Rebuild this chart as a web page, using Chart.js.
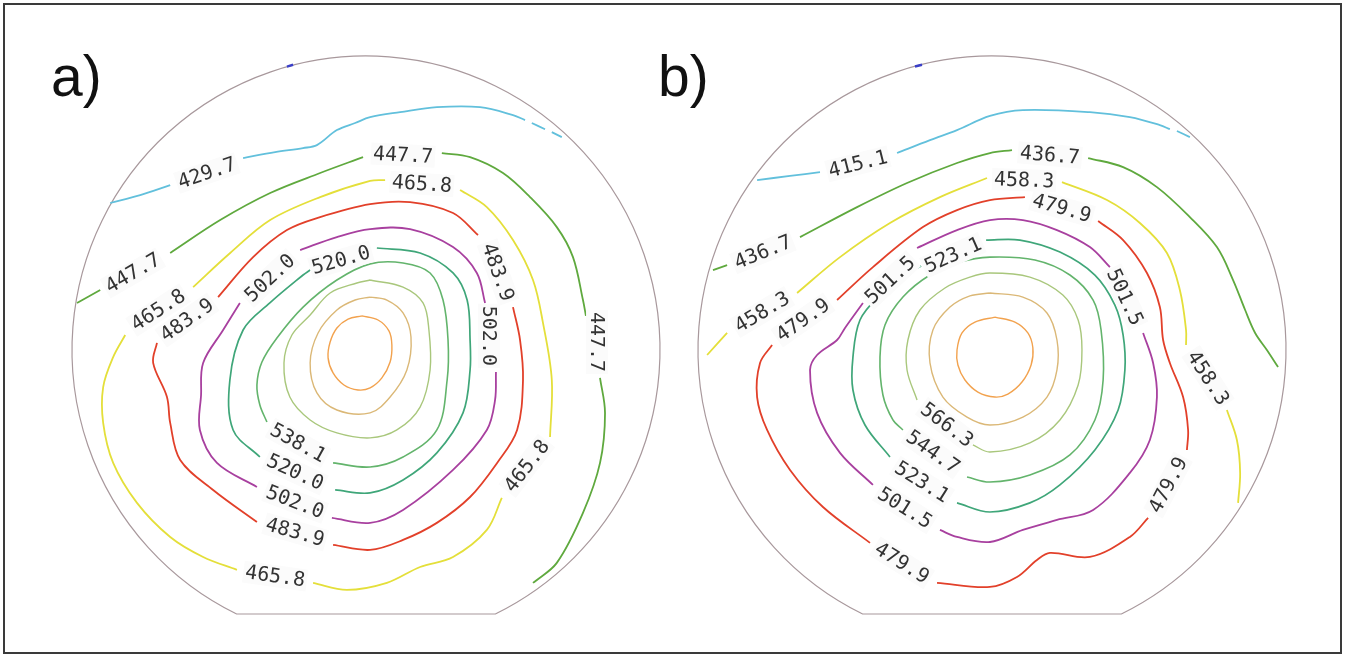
<!DOCTYPE html>
<html><head><meta charset="utf-8">
<script src="https://cdn.jsdelivr.net/npm/chart.js@4.4.1/dist/chart.umd.min.js"></script>
<style>
html,body{margin:0;padding:0;background:#fff;}
body{width:1346px;height:654px;position:relative;overflow:hidden;}
#frame{position:absolute;left:3px;top:3px;width:1339px;height:651px;box-sizing:border-box;border:2px solid #3a3a3a;}
.tag{position:absolute;top:48px;font-family:'Liberation Sans',Arial,sans-serif;font-size:57px;line-height:57px;color:#111;}
canvas{position:absolute;top:46px;}
</style></head><body>
<div id="frame"></div>
<div class="tag" style="left:51px">a)</div>
<div class="tag" style="left:658px">b)</div>
<canvas id="ca" width="608" height="608" style="left:62px"></canvas>
<canvas id="cb" width="608" height="608" style="left:688px"></canvas>
<script>
// ---- wafer geometry (mm, 200 mm wafer) ----
const WAFER_RADIUS = 100;
const WAFER_FLAT_Y = -89.8;

// ---- contour levels ----
const levelsA = [429.7, 447.7, 465.8, 483.9, 502.0, 520.0, 538.1];
const levelsB = [415.1, 436.7, 458.3, 479.9, 501.5, 523.1, 544.7, 566.3];

// ---- panel a contours (x, y in mm; null = break at a label) ----
const a_429_7 = [[-87.0,50.0],[-76.8,52.7],[-66.6,56.1],null,[-41.8,65.3],[-30.9,67.3],[-21.4,68.7],[-16.7,69.7],[-9.9,74.8],[-3.7,77.2],[1.4,79.2],[11.6,80.9],[24.1,82.6],[38.8,82.6],[50.0,79.9],[54.1,78.2],null,[56.4,77.2],[60.9,75.1],null,[63.2,74.1],[66.6,72.4]];
const a_447_7 = [[-98.3,16.0],[-90.4,20.4],null,[-66.6,33.0],[-49.6,44.2],[-32.6,53.4],[-15.6,60.2],[-1.0,65.6],null,[25.8,67.0],[35.4,65.6],[46.6,60.2],[55.8,52.0],[64.9,41.8],[70.4,31.6],[73.8,17.0],[74.8,11.6],null,[79.6,-9.5],[81.3,-21.4],[79.6,-38.4],[73.8,-55.4],[64.9,-72.4],[56.8,-79.2]];
const a_465_8 = [[-58.8,21.4],[-46.2,33.0],[-32.6,44.2],[-15.6,52.0],[1.4,57.5],[6.5,57.8],null,[32.0,54.4],[41.1,48.6],[50.0,37.4],[56.8,23.8],[60.2,9.2],[63.2,-10.2],[62.6,-29.6],null,[46.2,-50.3],[41.1,-61.2],[29.6,-70.4],[18.4,-73.8],[7.1,-79.2],[-6.5,-81.6],[-18.0,-79.2],null,[-43.9,-74.8],[-55.4,-70.4],[-66.6,-63.6],[-77.9,-52.0],[-86.0,-38.4],[-89.4,-24.8],[-89.4,-12.6],[-86.0,-2.4],[-81.9,5.1]];
const a_483_9 = [[-50.3,18.0],[-38.4,31.6],[-26.9,40.8],[-15.6,45.2],[1.4,49.6],[15.0,50.3],[29.6,46.6],[38.1,39.1],null,[50.0,14.6],[52.4,3.4],[53.4,-10.2],[51.4,-27.2],[44.6,-38.4],[35.4,-50.0],[24.1,-58.8],[12.6,-64.6],[1.4,-68.0],[-11.2,-66.3],null,[-37.1,-58.5],[-52.0,-47.6],[-63.2,-37.4],[-66.6,-24.8],[-67.7,-16.0],[-72.4,-4.4],[-71.1,2.4]];
const a_502_0 = [[-22.4,34.0],[-9.9,38.4],[1.4,41.1],[15.0,41.1],[29.6,35.0],[37.7,26.2],[40.5,16.0],null,[44.2,-7.5],[43.9,-17.0],[41.1,-27.2],[29.6,-40.8],[12.6,-54.4],[1.4,-58.8],[-11.6,-57.1],null,[-37.1,-46.6],[-50.7,-38.4],[-56.5,-27.2],[-56.1,-15.3],[-55.4,-4.4],[-48.6,6.8],[-42.9,16.0]];
const a_520_0 = [[3.7,34.7],[18.4,33.0],[29.6,26.2],[34.4,17.0],[35.4,3.4],[35.4,-6.8],[33.0,-21.4],[24.1,-35.0],[12.6,-44.2],[1.4,-48.6],[-10.5,-47.6],null,[-36.1,-36.4],[-45.2,-27.2],[-46.3,-10.2],[-41.8,6.8],[-32.7,16.0],[-21.4,25.5],[-19.0,27.2]];
const a_538_1 = [[-11.2,-38.4],[1.4,-39.8],[12.6,-36.4],[24.1,-27.2],[27.6,-10.2],[27.9,3.4],[26.2,17.0],[21.8,26.2],[12.6,29.6],[1.4,29.3],[-9.9,23.8],[-21.4,14.6],[-30.3,4.1],[-35.4,-4.1],[-37.1,-11.9],[-36.1,-18.7],[-33.7,-24.5]];
const a_inner1 = [[1.4,23.8],[12.6,21.4],[19.4,16.0],[21.4,6.8],[21.8,-6.8],[18.4,-19.4],[10.5,-27.2],[1.4,-29.9],[-9.9,-28.2],[-19.0,-23.8],[-25.9,-16.0],[-27.9,-4.4],[-25.2,5.1],[-19.0,11.9],[-12.2,19.4],[-3.1,22.8],[1.4,23.8]];
const a_inner2 = [[1.4,18.0],[7.1,17.0],[12.6,12.6],[15.3,4.4],[13.9,-6.8],[8.2,-16.0],[1.4,-21.4],[-9.9,-20.4],[-16.7,-14.6],[-19.0,-4.4],[-16.3,5.8],[-9.9,13.6],[-3.7,17.0],[1.4,18.0]];
const a_inner3 = [[-1.4,11.6],[4.1,10.2],[7.8,6.5],[8.8,1.7],[8.2,-4.1],[5.4,-9.5],[1.4,-12.9],[-2.7,-13.6],[-7.5,-11.9],[-11.2,-7.8],[-12.9,-2.7],[-12.2,2.7],[-9.9,7.5],[-6.1,10.5],[-1.4,11.6]];
const a_notch = [[-26.9,96.4],[-24.8,97.0]];

// ---- panel b contours ----
const b_415_1 = [[-79.9,57.8],[-68.7,59.2],[-58.5,60.5],null,[-32.3,67.0],[-21.1,71.4],[-11.9,74.8],[-0.7,79.6],[10.5,81.6],[33.3,80.9],[46.9,79.2],[57.1,76.5],[60.5,75.1],null,[62.9,74.5],[67.3,72.4]];
const b_436_7 = [[-94.9,27.2],[-90.1,28.9],null,[-65.3,38.4],[-45.9,48.6],[-28.9,56.8],[-11.9,63.6],[-0.7,67.0],[6.8,68.0],null,[32.7,65.3],[44.6,62.2],[56.1,55.4],[67.3,45.2],[76.5,35.0],[82.0,23.8],[86.1,13.6],[89.5,5.8],[93.5,0.0],[97.3,-5.8]];
const b_458_3 = [[-96.9,-1.7],[-90.1,5.8],null,[-66.3,19.4],[-51.7,31.6],[-34.7,43.2],[-17.7,52.0],[-1.7,58.5],null,[23.8,57.1],[39.1,51.0],[50.3,43.2],[59.5,33.0],[63.9,20.4],[66.0,6.8],[66.0,1.7],null,[79.9,-20.4],[83.3,-30.6],[84.4,-41.8],[83.7,-52.0]];
const b_479_9 = [[-52.7,17.0],[-40.5,28.2],[-23.5,41.8],[-11.9,47.6],[-0.7,51.0],[11.2,52.0],null,[36.1,43.9],[44.6,37.4],[52.7,26.2],[57.1,14.6],[58.2,3.4],[60.5,-4.4],[65.0,-16.0],[66.7,-27.2],[66.3,-34.0],null,[53.1,-57.1],[46.9,-63.6],[33.3,-70.4],[19.7,-69.0],[15.3,-71.4],[8.5,-77.2],[-0.7,-80.6],[-18.7,-79.2],null,[-41.5,-65.6],[-57.5,-53.4],[-68.7,-40.8],[-76.5,-27.2],[-79.9,-16.0],[-78.9,-4.4],[-74.8,1.7]];
const b_501_5 = [[-25.5,34.7],[-11.9,40.8],[-0.7,44.2],[10.5,44.2],[22.1,40.8],[33.3,35.0],[40.1,28.2],null,[51.4,5.8],[54.8,-4.4],[56.1,-16.0],[53.7,-30.6],[46.9,-41.8],[34.4,-54.4],[22.1,-57.8],[10.5,-61.2],[-0.7,-65.3],[-11.9,-63.6],[-17.7,-61.2],null,[-40.5,-45.9],[-51.7,-35.0],[-59.5,-21.4],[-61.9,-6.8],[-59.5,-1.7],[-52.7,3.4],[-50.0,7.5],[-43.9,16.0]];
const b_523_1 = [[-2.0,37.4],[9.5,37.4],[23.1,33.3],[35.0,25.5],[41.8,15.3],[44.6,5.1],[45.2,-6.8],[42.9,-20.4],[35.0,-34.0],[23.1,-45.9],[12.9,-52.0],[-0.7,-55.1],[-11.9,-52.0],null,[-34.7,-36.4],[-43.2,-25.5],[-47.3,-13.6],[-47.3,-2.4],[-44.9,10.2],[-38.1,18.7],[-29.6,25.5],[-24.1,28.6]];
const b_544_7 = [[-8.5,-43.2],[-0.7,-44.9],[12.9,-42.5],[26.5,-35.7],[35.0,-23.8],[37.8,-10.2],[37.1,6.8],[34.4,17.0],[26.5,25.5],[14.6,30.6],[-0.7,31.6],[-10.9,29.9],[-21.1,25.5],[-30.3,18.0],[-36.4,8.5],[-38.1,-2.4],[-37.1,-15.3],[-33.7,-23.8],[-30.3,-27.2]];
const b_566_3 = [[-6.5,-32.3],[-0.7,-34.7],[12.9,-31.6],[23.1,-23.8],[29.3,-11.9],[30.6,0.0],[29.3,10.2],[24.1,18.7],[12.9,24.8],[-0.7,26.2],[-7.5,24.8],[-16.0,21.1],[-24.5,13.6],[-28.6,3.4],[-28.9,-6.8],[-25.5,-17.0]];
const b_inner1 = [[-0.7,19.4],[10.5,18.0],[18.7,12.6],[22.1,3.4],[22.1,-6.8],[18.7,-16.0],[10.5,-22.8],[-0.7,-25.5],[-8.5,-22.8],[-16.7,-16.0],[-21.1,-4.4],[-20.1,6.8],[-14.3,14.6],[-7.5,18.4],[-0.7,19.4]];
const b_inner2 = [[1.0,11.2],[7.8,9.5],[12.2,5.8],[13.9,0.7],[13.3,-5.1],[10.2,-10.9],[5.4,-15.0],[1.0,-16.0],[-4.8,-14.3],[-9.2,-10.2],[-11.6,-5.1],[-11.9,0.0],[-10.2,5.8],[-5.8,9.5],[1.0,11.2]];
const b_notch = [[-26.2,96.4],[-23.8,97.0]];

// ---- contour labels: [level, x, y] and their text angle (deg) ----
const labelsA = [
  [429.7,-54.1,60.2],[447.7,-79.3,26.2],[447.7,12.6,66.3],[447.7,78.6,2.7],
  [465.8,-70.7,13.6],[465.8,19.0,56.5],[465.8,54.7,-39.4],[465.8,-30.9,-76.9],
  [483.9,-60.9,10.2],[483.9,44.9,26.5],[483.9,-24.1,-61.9],
  [502.0,-32.7,24.5],[502.0,41.8,4.8],[502.0,-24.1,-51.7],
  [520.0,-8.5,30.6],[520.0,-24.1,-41.5],[538.1,-23.1,-31.6]
];
const anglesA = [-19,-30,3,90,-33,4,-52,8,-35,70,16,-43,90,21,-16,25,29];
const labelsB = [
  [415.1,-45.6,63.3],[436.7,-77.9,33.3],[436.7,19.7,66.3],
  [458.3,-78.2,12.9],[458.3,10.9,57.8],[458.3,73.5,-9.5],
  [479.9,-64.3,10.2],[479.9,23.8,48.3],[479.9,59.9,-45.9],[479.9,-30.6,-72.4],
  [501.5,-34.7,23.8],[501.5,45.2,18.0],[501.5,-29.6,-53.7],
  [523.1,-13.3,32.3],[523.1,-23.8,-44.9],[544.7,-20.1,-34.7],[566.3,-15.3,-25.5]
];
const anglesB = [-14,-22,5,-31,2,57,-35,16,-62,32,-43,65,32,-24,32,35,37];

// ---- styles ----
const ringColors = ['#62c0dc','#5fa93e','#e4df3a','#e2402a','#a8409f','#3fa679','#63b46c','#a9c77c','#dbb877','#f2a24e'];
const ringWidths = [1.8,1.8,1.8,1.8,1.8,1.7,1.6,1.4,1.4,1.4];

function toPts(arr){ return arr.map(p => p ? {x:p[0], y:p[1]} : {x:null, y:null}); }

function makeChart(id, rings, notch, labels, angles){
  const datasets = rings.map((r,i) => ({
    data: toPts(r), showLine:true, borderColor:ringColors[i], borderWidth:ringWidths[i],
    pointRadius:0, tension:0.35, spanGaps:false, fill:false
  }));
  datasets.push({data: toPts(notch), showLine:true, borderColor:'#3a3fc8', borderWidth:2.5, pointRadius:0});
  const waferPlugin = {
    id:'wafer',
    beforeDatasetsDraw(chart){
      const {ctx, scales:{x,y}} = chart;
      const cx = x.getPixelForValue(0), cy = y.getPixelForValue(0);
      const r = x.getPixelForValue(WAFER_RADIUS) - cx;
      const fy = y.getPixelForValue(WAFER_FLAT_Y) - cy;
      const a = Math.asin(fy / r);
      ctx.save();
      ctx.beginPath();
      ctx.arc(cx, cy, r, Math.PI - a, a, false);
      ctx.closePath();
      ctx.strokeStyle = '#a8989c'; ctx.lineWidth = 1.2;
      ctx.stroke();
      ctx.restore();
    }
  };
  const labelPlugin = {
    id:'contourLabels',
    afterDatasetsDraw(chart){
      const {ctx, scales:{x,y}} = chart;
      ctx.save();
      ctx.font = "20px 'DejaVu Sans Mono', monospace";
      ctx.textAlign = 'center'; ctx.textBaseline = 'middle';
      labels.forEach((l,i) => {
        const txt = l[0].toFixed(1);
        const px = x.getPixelForValue(l[1]), py = y.getPixelForValue(l[2]);
        const w = ctx.measureText(txt).width;
        ctx.save();
        ctx.translate(px, py); ctx.rotate(angles[i]*Math.PI/180);
        ctx.fillStyle = '#fbfbfb'; ctx.fillRect(-w/2-2, -11, w+4, 22);
        ctx.fillStyle = '#333'; ctx.fillText(txt, 0, 1);
        ctx.restore();
      });
      ctx.restore();
    }
  };
  return new Chart(document.getElementById(id), {
    type:'scatter',
    data:{datasets},
    options:{
      responsive:false, animation:false, devicePixelRatio:1,
      layout:{padding:10},
      scales:{
        x:{type:'linear', min:-WAFER_RADIUS, max:WAFER_RADIUS, display:false},
        y:{type:'linear', min:-WAFER_RADIUS, max:WAFER_RADIUS, display:false}
      },
      plugins:{legend:{display:false}, tooltip:{enabled:false}}
    },
    plugins:[waferPlugin, labelPlugin]
  });
}

makeChart('ca', [a_429_7,a_447_7,a_465_8,a_483_9,a_502_0,a_520_0,a_538_1,a_inner1,a_inner2,a_inner3], a_notch, labelsA, anglesA);
makeChart('cb', [b_415_1,b_436_7,b_458_3,b_479_9,b_501_5,b_523_1,b_544_7,b_566_3,b_inner1,b_inner2], b_notch, labelsB, anglesB);
</script>
</body></html>
